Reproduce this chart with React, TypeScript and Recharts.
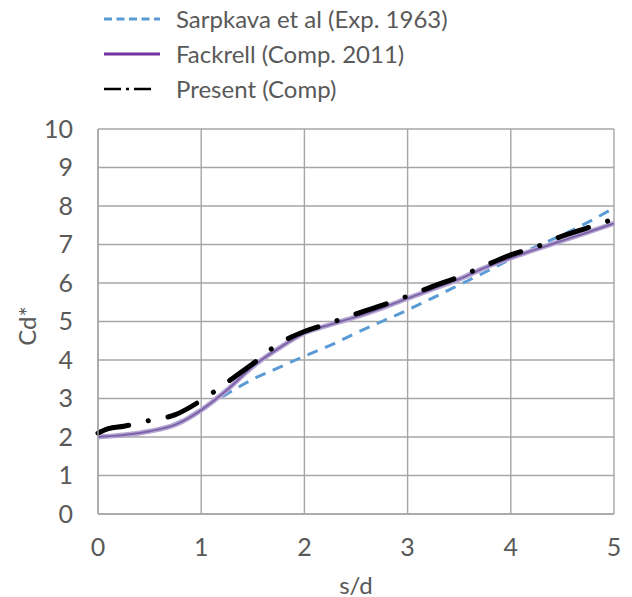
import React from 'react';
import { LineChart, Line, XAxis, YAxis, CartesianGrid, Label } from 'recharts';

// s/d stations shared by all three curves
const sOverD = [0, 0.1, 0.25, 0.5, 0.75, 1, 1.25, 1.5, 1.75, 2, 2.25, 2.5, 2.75, 3, 3.25, 3.5, 3.75, 4, 4.25, 4.5, 4.75, 5];

// Sarpkaya et al. experiment (1963)
const sarpkaya = [2.0, 2.02, 2.06, 2.15, 2.35, 2.72, 3.12, 3.5, 3.8, 4.1, 4.38, 4.7, 5.0, 5.3, 5.62, 5.95, 6.28, 6.62, 6.95, 7.25, 7.58, 7.95];
// Fackrell computation (2011)
const fackrell = [2.0, 2.02, 2.05, 2.15, 2.32, 2.7, 3.22, 3.83, 4.3, 4.7, 4.92, 5.12, 5.35, 5.6, 5.85, 6.1, 6.4, 6.65, 6.88, 7.1, 7.32, 7.55];
// Present computation
const present = [2.1, 2.22, 2.28, 2.43, 2.58, 2.95, 3.42, 3.9, 4.42, 4.74, 4.96, 5.2, 5.42, 5.66, 5.92, 6.16, 6.45, 6.73, 6.94, 7.22, 7.44, 7.66];

const xTicks = [0, 1, 2, 3, 4, 5];
const yTicks = [0, 1, 2, 3, 4, 5, 6, 7, 8, 9, 10];

const legendItems = [
  { name: 'Sarpkava et al (Exp. 1963)', color: '#5b9bd5', dash: '8 4.5', width: 3, len: 56 },
  { name: 'Fackrell (Comp. 2011)', color: '#7030a0', dash: undefined, width: 3, len: 56 },
  { name: 'Present (Comp)', color: '#000000', dash: '17 5 3 5 17 40', width: 2.5, len: 48 },
];

const rows = sOverD.map((s, i) => ({
  s,
  sarpkaya: sarpkaya[i],
  fackrell: fackrell[i],
  present: present[i],
}));

const FONT = 'Lato, "Open Sans", sans-serif';
const TEXT = '#595959';

export default function App() {
  return (
    <div style={{ position: 'absolute', left: 0, top: 0, width: 632, height: 597, background: '#fff', fontFamily: FONT }}>
      <div style={{ position: 'absolute', left: 104, top: 1 }}>
        {legendItems.map((it) => (
          <div key={it.name} style={{ display: 'flex', alignItems: 'center', height: 35, color: TEXT, fontSize: 24 }}>
            <svg width={56} height={10} style={{ marginRight: 16 }}>
              <line x1={0} y1={5} x2={it.len} y2={5} stroke={it.color} strokeWidth={it.width} strokeDasharray={it.dash} />
            </svg>
            <span>{it.name}</span>
          </div>
        ))}
      </div>
      <LineChart width={632} height={597} data={rows} margin={{ top: 129, right: 18, bottom: 0, left: 0 }}>
        <CartesianGrid stroke="#a6a6a6" strokeWidth={1.4} />
        <XAxis
          dataKey="s"
          type="number"
          domain={[0, 5]}
          ticks={xTicks}
          height={83}
          axisLine={{ stroke: '#a6a6a6', strokeWidth: 1.4 }}
          tickLine={false}
          tickSize={0}
          tickMargin={24}
          tick={{ fill: TEXT, fontSize: 25, fontFamily: FONT }}
        >
          <Label
            content={() => (
              <text x={356} y={584} textAnchor="middle" dominantBaseline="central" fill={TEXT} fontSize={24} fontFamily={FONT}>
                s/d
              </text>
            )}
          />
        </XAxis>
        <YAxis
          type="number"
          domain={[0, 10]}
          ticks={yTicks}
          width={98}
          interval={0}
          axisLine={{ stroke: '#a6a6a6', strokeWidth: 1.4 }}
          tickLine={false}
          tickSize={0}
          tickMargin={25}
          tick={{ fill: TEXT, fontSize: 25, fontFamily: FONT }}
        >
          <Label
            content={() => (
              <text x={26} y={326} transform="rotate(-90 26 326)" textAnchor="middle" dominantBaseline="central" fill={TEXT} fontSize={24} fontFamily={FONT}>
                Cd*
              </text>
            )}
          />
        </YAxis>
        <Line dataKey="sarpkaya" type="monotone" stroke="#5b9bd5" strokeWidth={3} strokeDasharray="11 8" dot={false} isAnimationActive={false} />
        <Line dataKey="fackrell" type="monotone" stroke="#b6a8d3" strokeWidth={5} dot={false} isAnimationActive={false} />
        <Line dataKey="fackrell" type="monotone" stroke="#7d62aa" strokeWidth={2} dot={false} isAnimationActive={false} />
        <Line dataKey="present" type="monotone" stroke="#000" strokeWidth={5} strokeLinecap="round" strokeDasharray="32 20 0.1 20" dot={false} isAnimationActive={false} />
      </LineChart>
    </div>
  );
}
